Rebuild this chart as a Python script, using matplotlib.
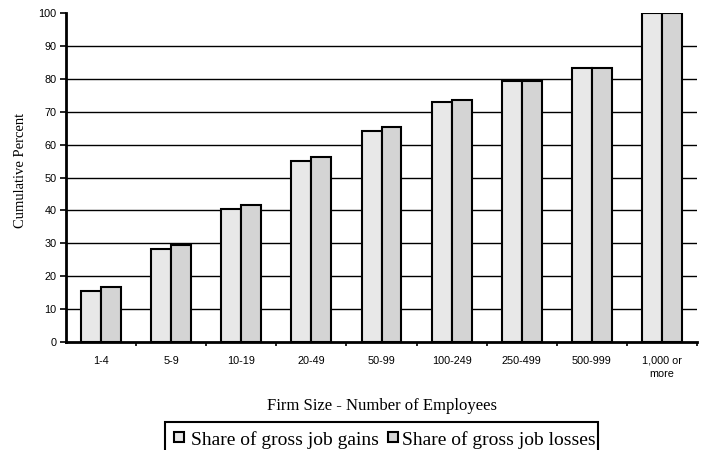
import matplotlib
matplotlib.use("Agg")
import matplotlib.pyplot as plt
import numpy as np
from matplotlib.patches import Rectangle

categories = ["1-4", "5-9", "10-19", "20-49", "50-99", "100-249", "250-499", "500-999", "1,000 or\nmore"]
gains = [15.4, 28.2, 40.3, 55.0, 64.0, 73.0, 79.2, 83.4, 100.0]
losses = [16.6, 29.4, 41.5, 56.2, 65.2, 73.7, 79.2, 83.4, 100.0]
series_names = ["Share of gross job gains", "Share of gross job losses"]
colors = ["#e8e8e8", "#d4d4d4"]
yticks = [0, 10, 20, 30, 40, 50, 60, 70, 80, 90, 100]

W, H = 708, 450
fig = plt.figure(figsize=(W/100, H/100), dpi=100)
ax = fig.add_axes([66/W, 108/H, (697-66)/W, (342-13)/H])

x = np.arange(len(categories))
w = 0.285
ax.bar(x - w/2, gains, w, color=colors[0], edgecolor="black", linewidth=1.5, zorder=3)
ax.bar(x + w/2, losses, w, color=colors[1], edgecolor="black", linewidth=1.5, zorder=3)

ax.set_xlim(-0.5, len(categories) - 0.5)
ax.set_ylim(0, 100)
ax.set_yticks(yticks)
for v in yticks[1:-1]:
    ax.axhline(v, color="black", linewidth=1.0, zorder=1)

for s in ["top", "right"]:
    ax.spines[s].set_visible(False)
ax.spines["left"].set_linewidth(2)
ax.spines["bottom"].set_linewidth(2)
ax.spines["left"].set_zorder(4)
ax.spines["bottom"].set_zorder(4)

ax.set_xticks(x)
ax.set_xticklabels(categories, fontsize=7.8, family="Liberation Sans", linespacing=1.4, va="top")
ax.set_xticks(np.arange(len(categories)) + 0.5, minor=True)
ax.tick_params(axis="x", which="major", length=0, pad=10)
ax.tick_params(axis="x", which="minor", length=3, width=1.2, direction="out")
ax.tick_params(axis="y", length=4, width=1.2, direction="out", pad=3)
for lab in ax.get_yticklabels():
    lab.set_fontsize(7.8)
    lab.set_family("Liberation Sans")

ax.set_ylabel("Cumulative Percent", fontsize=10.5, family="Liberation Serif", va="center")
ax.yaxis.set_label_coords((21-66)/(697-66), (342-170)/(342-13))
fig.text((66+697)/2/W, 1 - 406/H, "Firm Size - Number of Employees", ha="center", va="center",
         fontsize=12, family="Liberation Serif")

# legend drawn manually (box runs off the bottom of the figure, as in the reference)
fig.patches.append(Rectangle((165/W, -10/H), (598-165)/W, (450-422+10)/H, transform=fig.transFigure,
                             facecolor="white", edgecolor="black", linewidth=1.5, figure=fig))
hx = [174, 388]
tx = [191, 402]
for i in range(2):
    fig.patches.append(Rectangle((hx[i]/W, 1 - 442/H), 10/W, 10/H, transform=fig.transFigure,
                                 facecolor=colors[i], edgecolor="black", linewidth=1.5, figure=fig))
    fig.text(tx[i]/W, 1 - 445/H, series_names[i], ha="left", va="baseline",
             fontsize=14, family="Liberation Serif")

fig.savefig("out.png", dpi=100)
